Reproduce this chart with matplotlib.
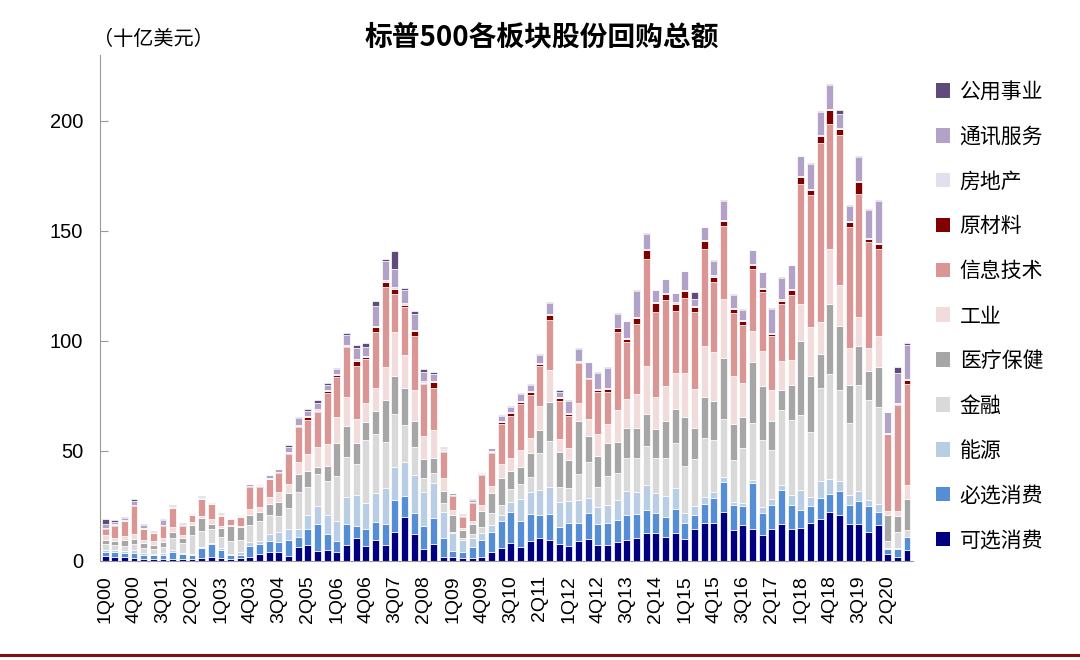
import numpy as np
import matplotlib
matplotlib.use("Agg")
import matplotlib.pyplot as plt
from matplotlib.lines import Line2D
from matplotlib.patches import Patch

plt.rcParams['font.family'] = ['Liberation Sans', 'Noto Sans CJK SC', 'DejaVu Sans']

# quarters 1Q00 .. 4Q20
quarters = [f"{q}Q{y:02d}" for y in range(0, 21) for q in range(1, 5)]

# buybacks by sector, bn USD
cons_disc = [2.3, 2.0, 2.0, 1.5, 1.0, 1.0, 1.0, 1.0, 1.0, 1.0, 1.5, 2.0, 1.5, 1.0, 1.2, 2.0, 3.0, 4.2, 4.2, 2.3,
             6.2, 7.1, 4.5, 4.8, 4.2, 7.3, 10.3, 6.8, 9.5, 7.3, 13.3, 20.2, 12.1, 5.5, 7.6, 2.0, 1.7, 1.2, 1.2, 2.0,
             4.2, 6.1, 8.0, 6.5, 9.1, 10.3, 9.5, 7.6, 7.0, 9.2, 9.8, 7.3, 7.3, 8.5, 9.5, 10.3, 12.6, 12.6, 10.8, 12.9,
             10.0, 14.5, 17.4, 17.1, 22.1, 14.1, 16.4, 14.4, 11.8, 14.7, 17.0, 14.5, 15.0, 17.3, 19.2, 22.1, 20.8, 17.0, 17.0, 13.2,
             16.5, 3.2, 1.8, 4.8]
cons_staples = [2.0, 2.0, 1.5, 2.0, 1.5, 1.5, 1.7, 3.0, 2.0, 1.5, 4.5, 5.5, 3.5, 1.5, 1.5, 4.8, 4.6, 5.0, 4.6, 7.2,
                4.6, 7.3, 12.2, 7.5, 5.0, 9.5, 5.6, 7.6, 8.4, 9.4, 14.4, 9.5, 9.9, 10.6, 11.8, 8.3, 2.8, 2.7, 5.3, 7.5,
                8.8, 12.1, 14.1, 11.7, 12.1, 10.7, 12.0, 8.0, 10.1, 8.2, 11.9, 9.5, 9.8, 10.1, 11.4, 11.1, 10.6, 9.1, 9.4, 10.6,
                7.1, 6.4, 8.5, 11.4, 14.0, 11.4, 8.6, 21.2, 10.2, 10.6, 15.4, 11.1, 8.0, 7.5, 9.4, 8.5, 10.9, 8.3, 10.1, 12.0,
                5.6, 2.3, 3.8, 6.0]
energy = [0.7, 0.8, 1.0, 1.5, 1.0, 0.8, 1.0, 1.0, 0.5, 0.5, 0.5, 0.7, 0.8, 0.7, 1.5, 2.0, 1.5, 3.1, 4.5, 5.0,
          3.7, 6.5, 8.3, 8.6, 9.1, 12.1, 14.1, 12.1, 12.9, 16.3, 15.2, 15.5, 17.1, 15.4, 15.9, 12.1, 8.1, 5.6, 4.1, 3.1,
          3.4, 2.7, 4.9, 10.0, 10.0, 11.3, 12.1, 11.4, 10.2, 10.3, 6.8, 7.9, 8.4, 9.1, 11.1, 10.1, 11.3, 9.4, 9.5, 9.8,
          4.6, 4.1, 3.3, 3.0, 2.2, 1.5, 1.2, 1.2, 2.7, 3.0, 2.3, 4.6, 9.4, 4.3, 7.6, 6.8, 4.8, 4.9, 4.6, 2.7,
          4.0, 0.2, 0.2, 0.3]
financials = [2.6, 2.5, 2.5, 2.5, 2.5, 2.0, 2.5, 5.5, 4.5, 9.0, 7.0, 6.5, 5.0, 6.0, 5.3, 7.6, 9.2, 8.6, 7.3, 9.4,
              17.0, 12.9, 14.4, 15.6, 20.5, 18.2, 13.9, 28.5, 26.8, 21.2, 23.9, 16.6, 12.9, 6.1, 4.5, 3.8, 0.7, 0.8, 1.5, 3.0,
              5.3, 4.6, 5.6, 6.6, 6.8, 16.9, 20.9, 6.8, 6.0, 11.7, 16.3, 9.1, 13.3, 12.1, 15.0, 15.2, 17.8, 15.6, 17.0, 20.2,
              21.5, 21.2, 26.6, 23.3, 26.1, 18.9, 25.0, 26.1, 30.3, 22.3, 34.1, 34.0, 34.1, 29.4, 42.4, 47.6, 41.4, 32.5, 48.1, 45.4,
              43.9, 3.5, 7.2, 3.1]
health = [1.9, 1.8, 2.5, 2.5, 2.0, 1.8, 2.5, 2.5, 2.5, 4.5, 6.0, 2.0, 4.0, 6.5, 5.8, 4.5, 4.1, 5.0, 6.1, 6.9,
          7.9, 7.3, 3.5, 6.7, 15.0, 14.3, 9.6, 8.3, 10.7, 19.0, 17.3, 16.7, 11.8, 8.6, 7.2, 5.8, 7.6, 3.8, 4.6, 7.1,
          9.1, 12.4, 8.3, 8.1, 10.9, 10.3, 17.9, 15.9, 12.6, 24.4, 12.0, 14.1, 15.0, 14.1, 13.6, 13.9, 14.5, 13.1, 16.9, 15.6,
          22.1, 14.1, 18.6, 18.1, 27.7, 16.4, 14.1, 27.4, 24.5, 12.9, 9.1, 15.6, 33.7, 25.4, 15.5, 31.8, 28.8, 17.1, 17.8, 12.9,
          18.0, 11.9, 7.3, 14.1]
industrials = [2.3, 1.5, 2.0, 2.3, 1.5, 2.0, 1.7, 2.5, 1.5, 1.0, 1.0, 2.5, 1.0, 0.5, 0.6, 2.7, 2.3, 3.0, 4.5, 4.2,
               5.8, 7.4, 8.8, 10.0, 11.5, 13.3, 10.9, 8.7, 10.5, 15.1, 19.8, 15.1, 13.9, 10.6, 12.5, 5.9, 2.3, 1.1, 1.6, 2.8,
               3.4, 6.2, 6.1, 7.6, 7.2, 11.1, 14.4, 5.8, 5.6, 8.2, 7.7, 9.8, 8.5, 14.7, 12.9, 15.2, 22.0, 14.6, 16.1, 16.2,
               20.0, 17.7, 23.5, 21.9, 27.0, 21.8, 15.8, 14.4, 16.0, 14.4, 12.9, 11.7, 16.8, 22.3, 14.4, 25.2, 18.6, 17.0, 13.2, 10.6,
               14.4, 1.5, 2.3, 6.1]
info_tech = [2.7, 5.5, 6.5, 12.7, 5.0, 3.5, 5.5, 8.5, 4.0, 3.3, 7.5, 6.5, 4.5, 3.0, 4.2, 10.2, 8.8, 8.2, 9.0, 13.5,
             15.6, 15.6, 15.9, 23.3, 18.5, 22.4, 24.2, 19.7, 25.4, 36.4, 17.3, 21.7, 24.7, 23.5, 19.3, 11.5, 6.5, 5.0, 7.9, 13.6,
             14.7, 18.2, 19.1, 20.7, 19.4, 18.2, 22.7, 17.2, 14.4, 17.8, 18.2, 19.3, 14.7, 35.3, 25.9, 31.8, 48.5, 38.9, 38.9, 28.5,
             34.1, 35.0, 43.8, 31.9, 33.2, 28.8, 26.2, 28.2, 26.9, 24.2, 26.0, 29.6, 54.5, 60.0, 81.5, 56.6, 68.5, 55.0, 56.0, 48.0,
             39.6, 35.1, 48.2, 46.1]
materials = [0.3, 0.3, 0.3, 0.3, 0.2, 0.2, 0.3, 0.2, 0.3, 0.2, 0.3, 0.2, 0.2, 0.1, 0.1, 0.3, 0.8, 0.3, 0.2, 0.5,
             0.5, 1.2, 0.8, 0.8, 0.6, 0.8, 2.5, 1.0, 2.0, 2.0, 2.3, 1.0, 2.0, 0.5, 2.5, 0.8, 0.2, 0.2, 0.5, 0.5,
             0.7, 0.7, 1.0, 1.2, 1.2, 0.8, 2.3, 1.2, 0.8, 0.8, 0.3, 0.8, 1.2, 1.8, 1.6, 3.0, 4.0, 4.0, 2.7, 3.2,
             3.2, 2.3, 3.6, 2.6, 2.4, 1.5, 1.6, 1.5, 1.3, 1.2, 1.6, 2.0, 3.0, 2.6, 3.3, 6.4, 2.7, 2.1, 5.5, 1.6,
             2.2, 0.2, 0.4, 1.8]
real_estate = [0.3, 0.3, 0.3, 0.3, 0.3, 0.2, 0.3, 0.3, 0.2, 0.3, 0.3, 0.3, 0.5, 0.1, 0.2, 0.2, 0.2, 0.3, 0.2, 0.5,
               0.5, 0.7, 0.6, 0.5, 0.5, 0.5, 0.6, 0.6, 0.8, 1.0, 1.0, 1.0, 0.8, 0.8, 0.5, 0.5, 0.3, 0.3, 0.3, 0.3,
               0.4, 0.5, 0.5, 0.5, 0.5, 0.5, 0.5, 0.5, 0.4, 0.5, 0.3, 0.3, 0.3, 0.4, 0.5, 0.5, 0.5, 0.5, 0.5, 0.5,
               0.5, 0.5, 0.5, 0.5, 0.5, 0.5, 0.5, 0.5, 0.5, 0.5, 0.5, 0.5, 0.5, 0.5, 0.5, 0.5, 0.5, 0.5, 0.5, 0.5,
               0.5, 0.3, 0.5, 0.3]
telecom = [1.5, 0.8, 1.0, 1.5, 1.3, 0.3, 2.0, 0.5, 0.5, 0.5, 0.5, 0.5, 0.5, 0.1, 0.3, 0.7, 0.5, 1.3, 1.0, 2.5,
           3.0, 2.3, 3.0, 2.2, 2.5, 4.5, 5.0, 4.0, 9.0, 8.5, 8.0, 6.0, 7.0, 4.2, 3.3, 0.5, 0.5, 0.4, 0.7, 0.5,
           1.2, 2.5, 2.3, 2.8, 2.8, 3.6, 4.8, 2.5, 5.8, 5.2, 7.2, 7.5, 9.2, 6.3, 7.6, 11.7, 6.7, 5.3, 6.2, 4.1,
           8.7, 3.3, 6.0, 6.7, 8.4, 6.1, 4.8, 6.3, 7.1, 10.7, 9.6, 10.8, 8.9, 11.3, 10.2, 11.0, 6.4, 7.1, 10.7, 12.8,
           19.0, 9.3, 13.7, 15.8]
utilities = [2.3, 1.3, 0.3, 1.0, 0.3, 0.2, 0.5, 0.5, 0.3, 0.2, 0.3, 0.3, 0.2, 0.1, 0.1, 0.1, 0.2, 0.1, 0.1, 0.7,
             0.8, 0.8, 1.2, 0.8, 0.5, 0.9, 1.5, 1.6, 2.2, 1.2, 8.5, 1.0, 1.3, 1.3, 0.9, 0.4, 0.1, 0.1, 0.3, 0.2,
             0.3, 0.4, 0.6, 0.5, 0.4, 0.5, 0.4, 1.0, 0.2, 0.6, 0.1, 0.3, 0.3, 0.2, 0.2, 0.4, 0.4, 0.3, 0.2, 0.2,
             0.2, 3.2, 0.2, 0.2, 0.3, 0.2, 0.2, 0.2, 0.2, 0.5, 0.5, 0.3, 0.3, 0.3, 0.4, 0.3, 1.5, 0.5, 0.5, 0.3,
             0.5, 0.2, 2.6, 0.8]

# bottom -> top
series = [cons_disc, cons_staples, energy, financials, health, industrials,
          info_tech, materials, real_estate, telecom, utilities]
names = ['可选消费', '必选消费', '能源', '金融', '医疗保健', '工业',
         '信息技术', '原材料', '房地产', '通讯服务', '公用事业']
colors = ['#000080', '#558ed5', '#b9cde5', '#d9d9d9', '#a6a6a6', '#f2dcdb',
          '#da9694', '#800000', '#e4dfec', '#b3a2c7', '#604a7b']

fig = plt.figure(figsize=(10.8, 6.6), dpi=100)
ax = fig.add_axes([0.0926, 0.15, 0.7526, 0.7667])

x = np.arange(len(quarters))
bottom = np.zeros(len(quarters))
for vals, c in zip(series, colors):
    vals = np.array(vals)
    ax.bar(x, vals, bottom=bottom, width=0.72, color=c, edgecolor='white', linewidth=0.5)
    bottom += vals

ax.set_xlim(-0.52, 83.6)
ax.set_ylim(0, 230)
ax.set_yticks([0, 50, 100, 150, 200])
ax.set_xticks(x[::3])
ax.set_xticklabels(quarters[::3], rotation=90, fontsize=14, family='Liberation Sans')
ax.tick_params(axis='x', length=0, pad=10)
ax.tick_params(axis='y', direction='in', length=6, labelsize=14.5, pad=12, color='#999999')
for s in ['top', 'right']:
    ax.spines[s].set_visible(False)
for s in ['left', 'bottom']:
    ax.spines[s].set_color('#999999')

fig.text(0.502, 0.943, '标普500各板块股份回购总额', ha='center', va='center',
         fontsize=20, fontweight='bold', family=['Noto Sans CJK SC'])
fig.text(0.086, 0.94, '（十亿美元）', ha='left', va='center', fontsize=14.5,
         family=['Noto Sans CJK SC'])

handles = [Patch(facecolor=c, edgecolor='none') for c in colors][::-1]
fig.legend(handles, names[::-1], loc='upper left', bbox_to_anchor=(0.849, 0.906),
           frameon=False, handlelength=0.7, handleheight=0.7, handletextpad=0.45,
           labelspacing=1.097, prop={'family': 'Noto Sans CJK SC', 'size': 15})

fig.add_artist(Line2D([0, 1], [0.008, 0.008], transform=fig.transFigure, color='#7f1010', linewidth=2.2))

fig.savefig('out.png', dpi=100)
